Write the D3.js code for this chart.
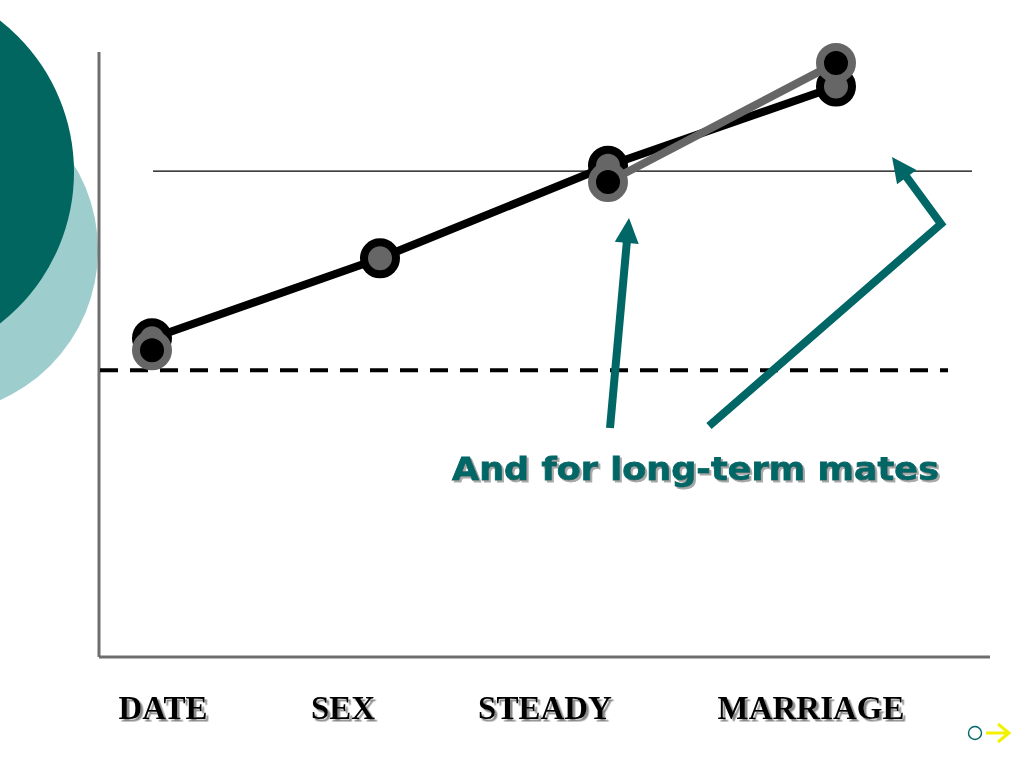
<!DOCTYPE html>
<html>
<head>
<meta charset="utf-8">
<script src="https://cdn.jsdelivr.net/npm/d3@7"></script>
<style>
  html, body { margin: 0; padding: 0; background: #fff; }
  svg { display: block; }
</style>
</head>
<body>
<svg id="chart" width="1024" height="768"></svg>
<script>
// ---- data ----
const categories = ["DATE", "SEX", "STEADY", "MARRIAGE"];
const blackSeries = [52.7, 65.9, 81.2, 94.3];
const graySeries = [50.7, null, 78.5, 98.2];
const dashedRef = 47.4;
const solidRef = 80.3;
const annotation = "And for long-term mates";

// ---- layout ----
const axisLeft = 99, axisBottom = 657, axisTop = 52, axisRight = 990;
const teal = "#006666";
const grayC = "#666666";

const svg = d3.select("#chart");
const defs = svg.append("defs");
const f1 = defs.append("filter").attr("id", "shLabel").attr("x", "-10%").attr("y", "-20%").attr("width", "130%").attr("height", "150%");
f1.append("feDropShadow").attr("dx", 2.5).attr("dy", 2.5).attr("stdDeviation", 0.6).attr("flood-color", "#8a8a8a").attr("flood-opacity", 1);
const f2 = defs.append("filter").attr("id", "shAnn").attr("x", "-10%").attr("y", "-20%").attr("width", "130%").attr("height", "150%");
f2.append("feDropShadow").attr("dx", 2).attr("dy", 2).attr("stdDeviation", 0.6).attr("flood-color", "#a8a8a8").attr("flood-opacity", 1);

// decorative circles
svg.append("circle").attr("cx", -66).attr("cy", 250).attr("r", 164).attr("fill", "#9dcdcd");
svg.append("circle").attr("cx", -118).attr("cy", 172).attr("r", 192).attr("fill", "#00665f");

const x = d3.scalePoint().domain(categories).range([152, 836]);
const y = d3.scaleLinear().domain([0, 100]).range([axisBottom, axisTop]);

// axes (plain lines)
svg.append("line").attr("x1", axisLeft).attr("x2", axisLeft).attr("y1", axisTop).attr("y2", axisBottom)
  .attr("stroke", "#6e6e6e").attr("stroke-width", 3);
svg.append("line").attr("x1", axisLeft).attr("x2", axisRight).attr("y1", axisBottom).attr("y2", axisBottom)
  .attr("stroke", "#6e6e6e").attr("stroke-width", 3);

// reference lines
svg.append("line").attr("x1", 153).attr("x2", 972).attr("y1", y(solidRef)).attr("y2", y(solidRef))
  .attr("stroke", "#000").attr("stroke-width", 1.2);
svg.append("line").attr("x1", 100).attr("x2", 948).attr("y1", y(dashedRef)).attr("y2", y(dashedRef))
  .attr("stroke", "#000").attr("stroke-width", 4).attr("stroke-dasharray", "18,12");

const line = d3.line()
  .defined(d => d.v !== null)
  .x(d => x(d.c)).y(d => y(d.v));

const blackData = categories.map((c, i) => ({ c, v: blackSeries[i] }));
const grayData = categories.map((c, i) => ({ c, v: graySeries[i] }));

// black series
svg.append("path").datum(blackData).attr("d", line)
  .attr("fill", "none").attr("stroke", "#000").attr("stroke-width", 8).attr("stroke-linejoin", "round");
svg.selectAll(".bm").data(blackData.filter(d => d.v !== null)).join("circle")
  .attr("cx", d => x(d.c)).attr("cy", d => y(d.v)).attr("r", 16)
  .attr("fill", grayC).attr("stroke", "#000").attr("stroke-width", 8);

// gray series
svg.append("path").datum(grayData).attr("d", line)
  .attr("fill", "none").attr("stroke", grayC).attr("stroke-width", 8).attr("stroke-linejoin", "round");
svg.selectAll(".gm").data(grayData.filter(d => d.v !== null)).join("circle")
  .attr("cx", d => x(d.c)).attr("cy", d => y(d.v)).attr("r", 16)
  .attr("fill", "#000").attr("stroke", grayC).attr("stroke-width", 8);

// arrows: polyline ending at a triangular head
function arrow(pts, headLen, headW) {
  const n = pts.length;
  const [tx, ty] = pts[n - 1];
  const [px, py] = pts[n - 2];
  const dx = tx - px, dy = ty - py, L = Math.hypot(dx, dy);
  const ux = dx / L, uy = dy / L;
  const bx = tx - ux * headLen, by = ty - uy * headLen;
  const shaft = pts.slice(0, n - 1).concat([[bx + ux * 2, by + uy * 2]]);
  svg.append("path").attr("d", d3.line()(shaft))
    .attr("stroke", teal).attr("stroke-width", 8).attr("fill", "none").attr("stroke-linejoin", "miter");
  const nx = -uy, ny = ux;
  svg.append("path")
    .attr("d", `M${tx},${ty} L${bx + nx * headW / 2},${by + ny * headW / 2} L${bx - nx * headW / 2},${by - ny * headW / 2} Z`)
    .attr("fill", teal);
}
arrow([[610, 428], [629, 218]], 25, 24);
arrow([[709, 426], [941, 224], [892, 157]], 25, 24);

// annotation text
svg.append("text").attr("x", 452).attr("y", 480)
  .attr("font-family", "DejaVu Sans, Verdana, sans-serif").attr("font-weight", "bold").attr("font-size", 32)
  .attr("fill", teal).attr("stroke", teal).attr("stroke-width", 0.8)
  .attr("textLength", 487).attr("lengthAdjust", "spacingAndGlyphs")
  .attr("filter", "url(#shAnn)").text(annotation);

// category labels (text boxes offset from points)
const labelCenters = [163, 343, 545, 811];
svg.append("g").attr("font-family", "Liberation Serif, Times New Roman, serif")
  .attr("font-weight", "bold").attr("font-size", 33).attr("text-anchor", "middle")
  .selectAll("text").data(categories).join("text")
  .attr("x", (d, i) => labelCenters[i]).attr("y", 719)
  .attr("fill", "#000").attr("filter", "url(#shLabel)").text(d => d);

// navigation glyphs
svg.append("circle").attr("cx", 975).attr("cy", 733).attr("r", 6.5).attr("fill", "none")
  .attr("stroke", teal).attr("stroke-width", 1.4);
svg.append("path").attr("d", "M986,733 L1008,733 M998,724 L1009,733 L998,742")
  .attr("fill", "none").attr("stroke", "#f2f200").attr("stroke-width", 3);
</script>
</body>
</html>
